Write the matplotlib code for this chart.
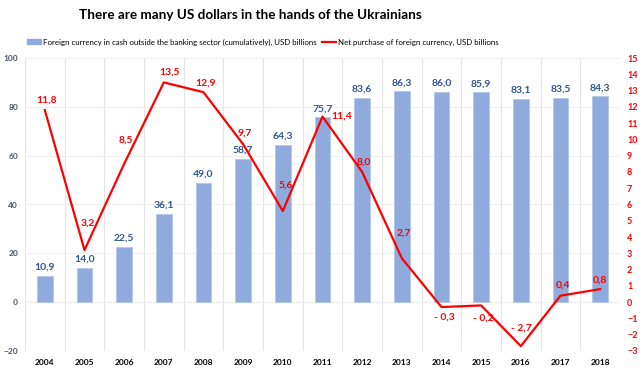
import matplotlib.pyplot as plt
from matplotlib.lines import Line2D
from matplotlib.patches import Patch

years = ["2004", "2005", "2006", "2007", "2008", "2009", "2010", "2011",
         "2012", "2013", "2014", "2015", "2016", "2017", "2018"]
cash = [10.9, 14.0, 22.5, 36.1, 49.0, 58.7, 64.3, 75.7, 83.6, 86.3, 86.0, 85.9, 83.1, 83.5, 84.3]
purchase = [11.8, 3.2, 8.5, 13.5, 12.9, 9.7, 5.6, 11.4, 8.0, 2.7, -0.3, -0.2, -2.7, 0.4, 0.8]

plt.rcParams['font.family'] = ['Lato', 'DejaVu Sans']

bar_col = "#8FAADC"
blue_txt = "#2F5597"
red = "#FF0000"

fig = plt.figure(figsize=(6.42, 3.71), dpi=100)
ax = fig.add_axes([25 / 642, 1 - 351 / 371, 595 / 642, 293 / 371])
x = list(range(len(years)))

ax.bar(x, cash, width=0.4, color=bar_col, edgecolor="#B4C7E7", linewidth=0.6, zorder=2)
for xi, v in zip(x, cash):
    ax.annotate(f"{v:.1f}".replace(".", ","), (xi, v), xytext=(0, 3), textcoords="offset points",
                ha="center", va="bottom", fontsize=7.5, color=blue_txt, fontweight="bold")

ax.set_xlim(-0.5, len(years) - 0.5)
ax.set_ylim(-20, 100)
ax.set_yticks(range(-20, 101, 20))
ax.set_xticks(x)
ax.set_xticklabels(years)
ax.tick_params(axis="x", length=0, labelsize=6, pad=6)
ax.tick_params(axis="y", length=0, labelsize=6, labelcolor="#44546A", pad=5)
for lab in ax.get_xticklabels() + ax.get_yticklabels():
    lab.set_fontweight("bold")
for s in ax.spines.values():
    s.set_visible(False)
ax.grid(axis="y", color="#F0F0F0", linewidth=0.8, zorder=0)
for b in range(len(years) + 1):
    ax.axvline(b - 0.5, color="#E4E4E4", linewidth=0.8, zorder=0)
ax.axhline(0, color="#D9D9D9", linewidth=0.8, zorder=1)

ax2 = ax.twinx()
ax2.set_ylim(-3, 15)
ax2.set_yticks(range(-3, 16))
ax2.tick_params(axis="y", length=0, labelsize=6.5, labelcolor=red, pad=5)
for lab in ax2.get_yticklabels():
    lab.set_fontweight("bold")
for s in ax2.spines.values():
    s.set_visible(False)
ax2.plot(x, purchase, color=red, linewidth=1.6, zorder=3)

# label offsets (pixels)
offsets = [(2, -10), (3, -27), (2, -24), (6, -10), (2, -9), (2, -11), (3, -26), (19, 0),
           (2, -10), (2, -25), (3, 10), (2, 13), (1, -18), (3, -11), (0, -9)]
for xi, v, (dx, dy) in zip(x, purchase, offsets):
    txt = f"{v:.1f}".replace(".", ",")
    if v < 0:
        txt = "- " + txt[1:]
    ax2.annotate(txt, (xi, v), xytext=(dx * 0.72, -dy * 0.72), textcoords="offset points",
                 ha="center", va="center", fontsize=7.5, color=red, fontweight="bold")

fig.text(250 / 642, 1 - 15 / 371, "There are many US dollars in the hands of the Ukrainians",
         ha="center", va="center", fontsize=9.7, fontweight="bold", color="black")

handles = [Patch(color=bar_col, label="Foreign currency in cash outside the banking sector (cumulatively), USD billions"),
           Line2D([0], [0], color=red, linewidth=1.6, label="Net purchase of foreign currency, USD billions")]
fig.legend(handles=handles, loc="center", bbox_to_anchor=(263 / 642, 1 - 42 / 371), ncol=2, frameon=False,
           fontsize=5.7, handlelength=1.8, handletextpad=0.3, columnspacing=0.6)

plt.savefig("out.png", dpi=100)
